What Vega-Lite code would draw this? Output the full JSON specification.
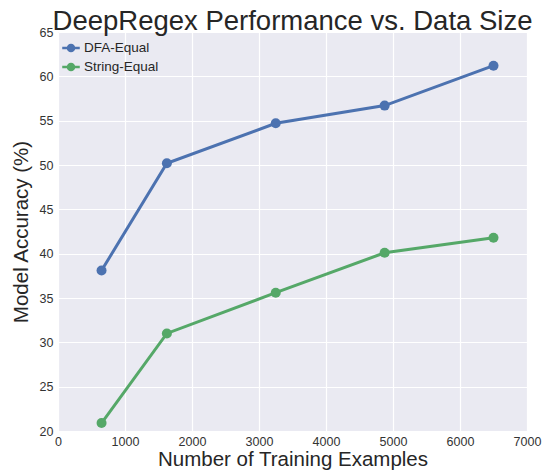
{
  "$schema": "https://vega.github.io/schema/vega-lite/v6.json",
  "width": 469,
  "height": 399,
  "autosize": "none",
  "padding": {"left": 58, "top": 32, "right": 17, "bottom": 40},
  "background": "white",
  "title": {
    "text": "DeepRegex Performance vs. Data Size",
    "fontSize": 27.5,
    "font": "Liberation Sans",
    "fontWeight": "normal",
    "color": "#262626",
    "anchor": "middle",
    "baseline": "alphabetic",
    "offset": -31
  },
  "config": {
    "view": {"fill": "#EAEAF2", "stroke": null},
    "font": "Liberation Sans",
    "axis": {
      "gridColor": "white",
      "gridWidth": 1.2,
      "domain": false,
      "ticks": false,
      "labelFontSize": 12.5,
      "labelColor": "#333333",
      "titleFontSize": 20.5,
      "titleFontWeight": "normal",
      "titleColor": "#262626"
    }
  },
  "data": {
    "values": [
      {"n": 650, "acc": 38.1, "metric": "DFA-Equal"},
      {"n": 1625, "acc": 50.2, "metric": "DFA-Equal"},
      {"n": 3250, "acc": 54.7, "metric": "DFA-Equal"},
      {"n": 4875, "acc": 56.7, "metric": "DFA-Equal"},
      {"n": 6500, "acc": 61.2, "metric": "DFA-Equal"},
      {"n": 650, "acc": 20.9, "metric": "String-Equal"},
      {"n": 1625, "acc": 31.0, "metric": "String-Equal"},
      {"n": 3250, "acc": 35.6, "metric": "String-Equal"},
      {"n": 4875, "acc": 40.1, "metric": "String-Equal"},
      {"n": 6500, "acc": 41.8, "metric": "String-Equal"}
    ]
  },
  "mark": {"type": "line", "point": {"size": 100, "filled": true, "opacity": 1}, "strokeWidth": 3},
  "encoding": {
    "x": {
      "field": "n", "type": "quantitative",
      "scale": {"domain": [0, 7000], "nice": false},
      "axis": {"values": [0,1000,2000,3000,4000,5000,6000,7000], "format": "d", "title": "Number of Training Examples", "labelPadding": 4, "titlePadding": 2, "labelFlush": false}
    },
    "y": {
      "field": "acc", "type": "quantitative",
      "scale": {"domain": [20, 65], "nice": false, "zero": false},
      "axis": {"values": [20,25,30,35,40,45,50,55,60,65], "title": "Model Accuracy (%)", "labelPadding": 5, "titlePadding": 8, "labelFlush": false}
    },
    "color": {
      "field": "metric", "type": "nominal",
      "scale": {"domain": ["DFA-Equal", "String-Equal"], "range": ["#4C72B0", "#55A868"]},
      "legend": {
        "title": null,
        "orient": "none",
        "legendX": 6,
        "legendY": 9,
        "labelFontSize": 13.5,
        "labelColor": "#262626",
        "symbolType": "M -1.6 0 L 1.6 0 M 0.55 0 A 0.55 0.55 0 1 1 -0.55 0 A 0.55 0.55 0 1 1 0.55 0",
        "symbolSize": 120,
        "symbolStrokeWidth": 2.5,
        "rowPadding": 1,
        "labelOffset": 6
      }
    }
  }
}
